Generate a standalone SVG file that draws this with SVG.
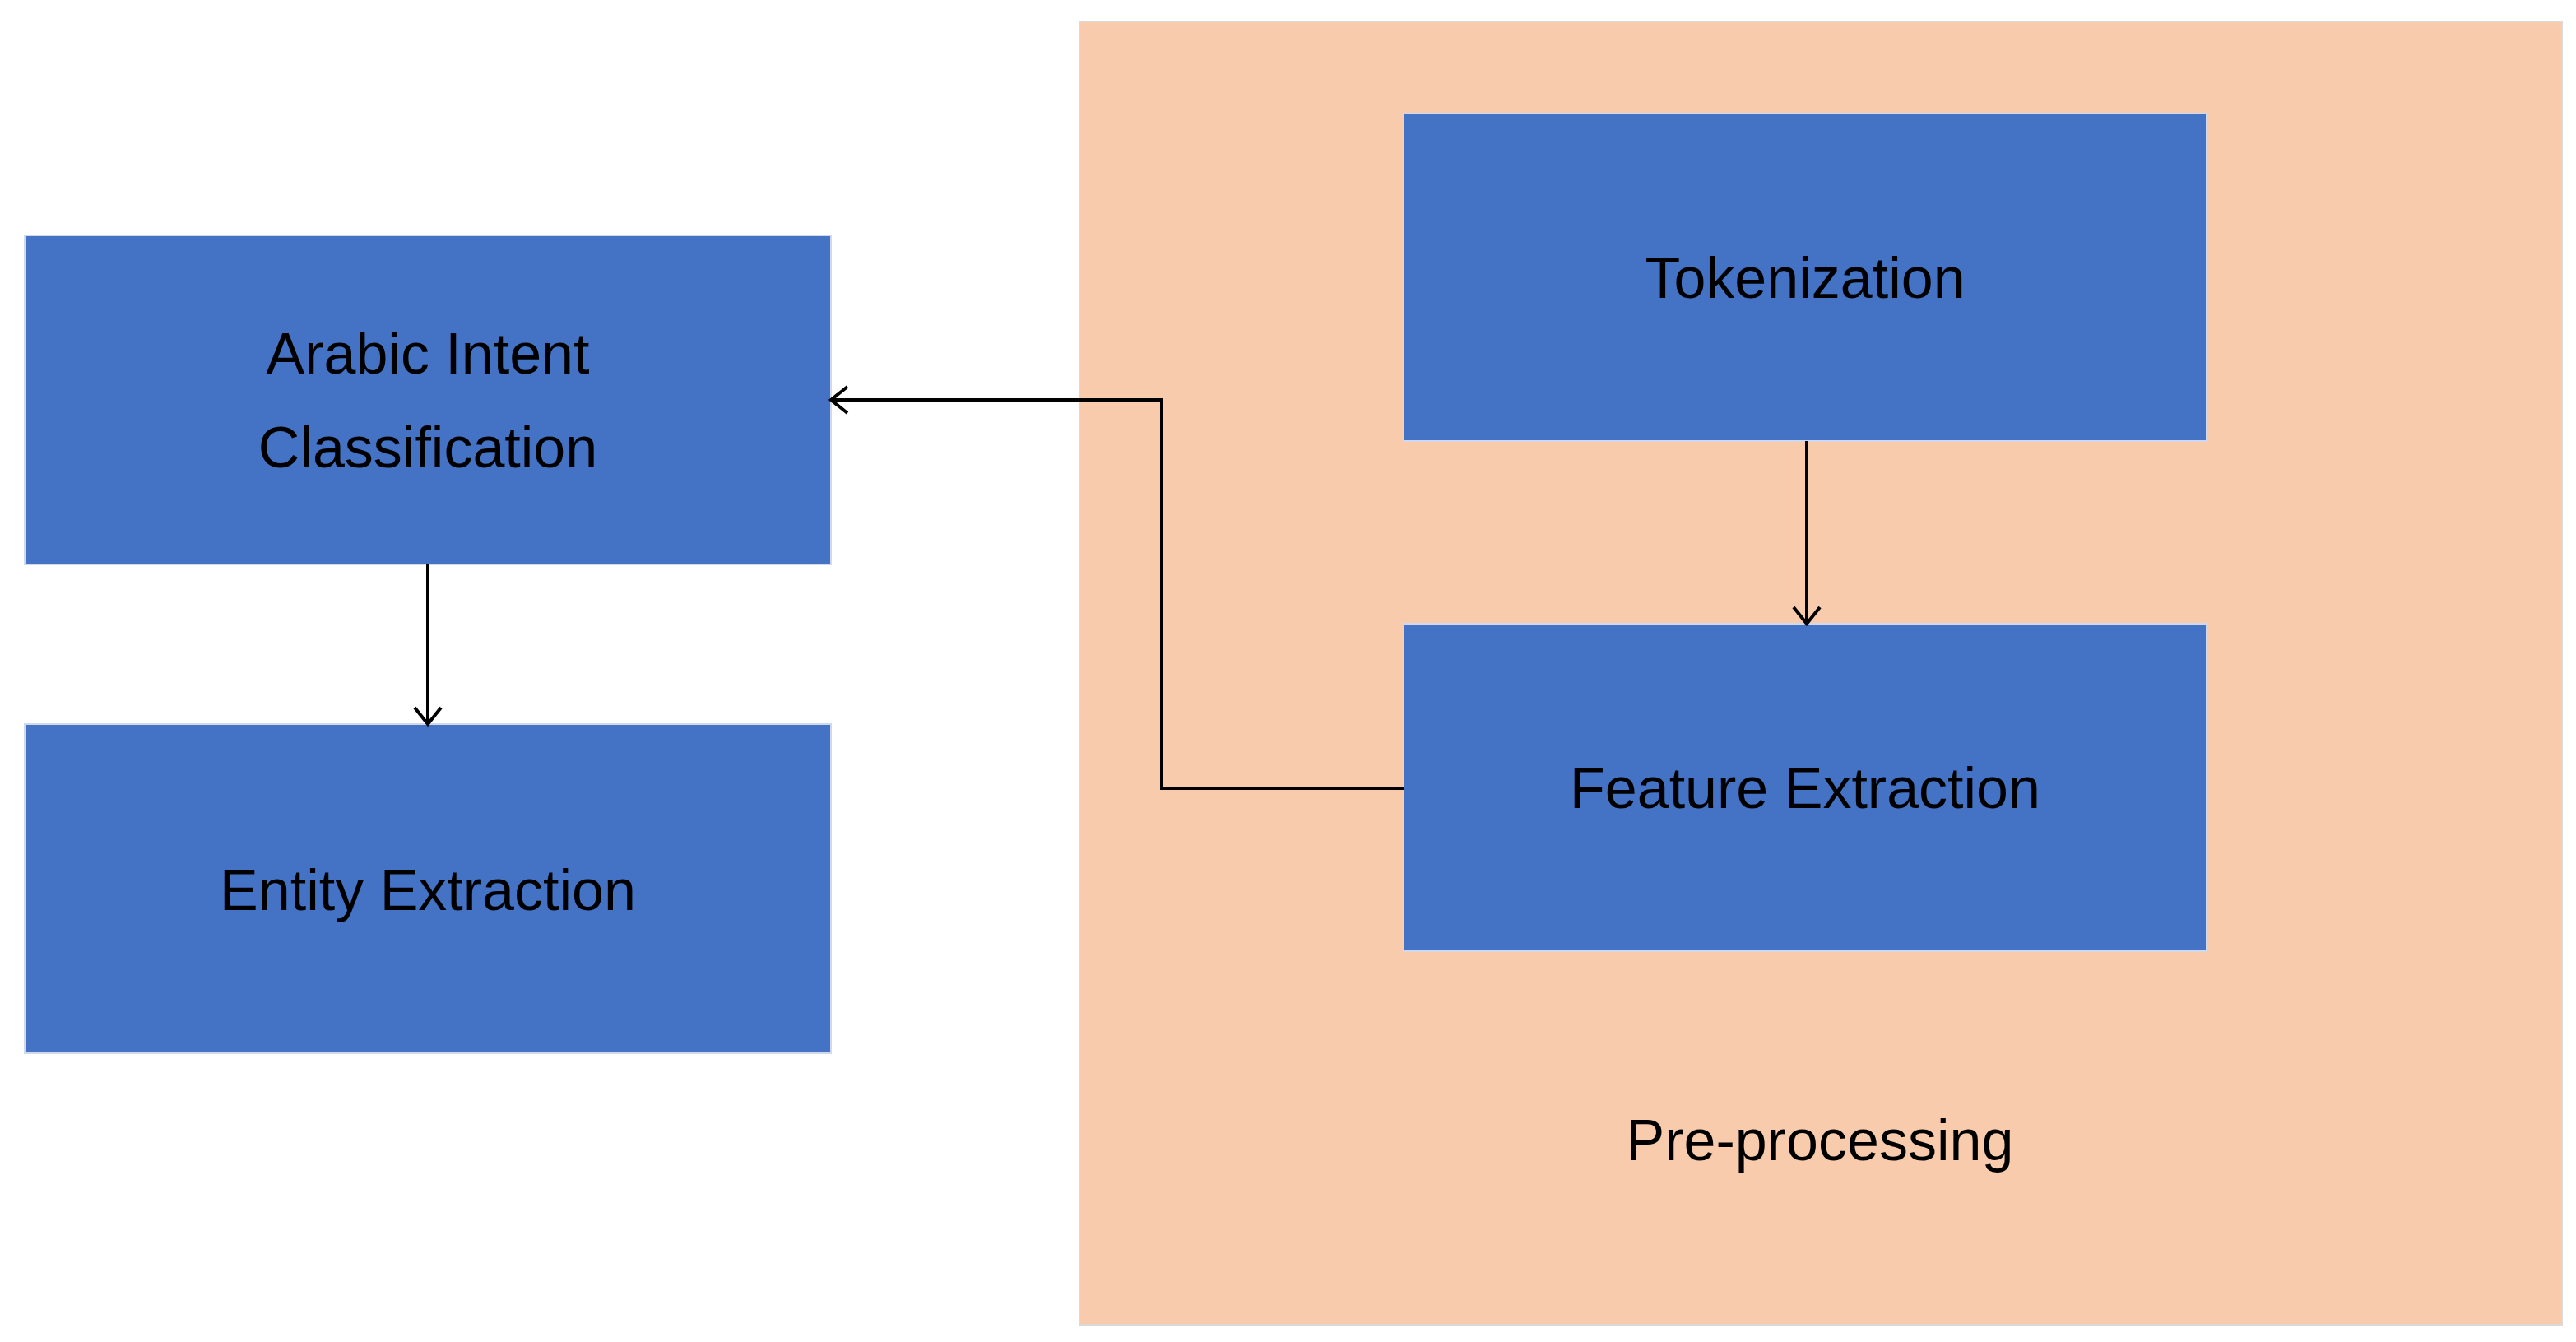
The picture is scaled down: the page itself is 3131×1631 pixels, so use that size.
<svg xmlns="http://www.w3.org/2000/svg" width="3131" height="1631" viewBox="0 0 3131 1631">
<style>
.n{fill:#4472C4;stroke:#D0D8EC;stroke-width:2}
.t{font-family:"Liberation Sans",Arial,sans-serif;font-size:70px;fill:#000;text-anchor:middle}
.c{fill:none;stroke:#000;stroke-width:4}
</style>
<defs><marker id="a" markerWidth="12" markerHeight="12" refX="10" refY="6" orient="auto" markerUnits="userSpaceOnUse" viewBox="0 0 12 12"><path d="M0,0L10,6L0,12" fill="none" stroke="#000" stroke-width="2"/></marker>
<marker id="b" markerWidth="40" markerHeight="40" refX="34" refY="20" orient="auto" markerUnits="userSpaceOnUse"><path d="M14,4L34,20L14,36" fill="none" stroke="#000" stroke-width="4"/></marker></defs>
<rect width="3131" height="1631" fill="#fff"/>
<g id="preprocessing"><rect x="1312" y="26" width="1802" height="1584" fill="#F7CBAC" stroke="#D9D9D9" stroke-width="2"/><text class="t" x="2212" y="1410">Pre-processing</text></g>
<g id="tokenization"><rect class="n" x="1706" y="138" width="976" height="398"/><text class="t" x="2194" y="362">Tokenization</text></g>
<g id="feature"><rect class="n" x="1706" y="758" width="976" height="398"/><text class="t" x="2194" y="982">Feature Extraction</text></g>
<g id="arabic"><rect class="n" x="30" y="286" width="980" height="400"/><text class="t" x="520" y="454">Arabic Intent</text><text class="t" x="520" y="568">Classification</text></g>
<g id="entity"><rect class="n" x="30" y="880" width="980" height="400"/><text class="t" x="520" y="1106">Entity Extraction</text></g>
<g id="connectors">
<path class="c" d="M2196,536V758" marker-end="url(#b)"/>
<path class="c" d="M520,686V880" marker-end="url(#b)"/>
<path class="c" d="M1706,958H1412V486H1010" marker-end="url(#b)"/>
</g>
</svg>
